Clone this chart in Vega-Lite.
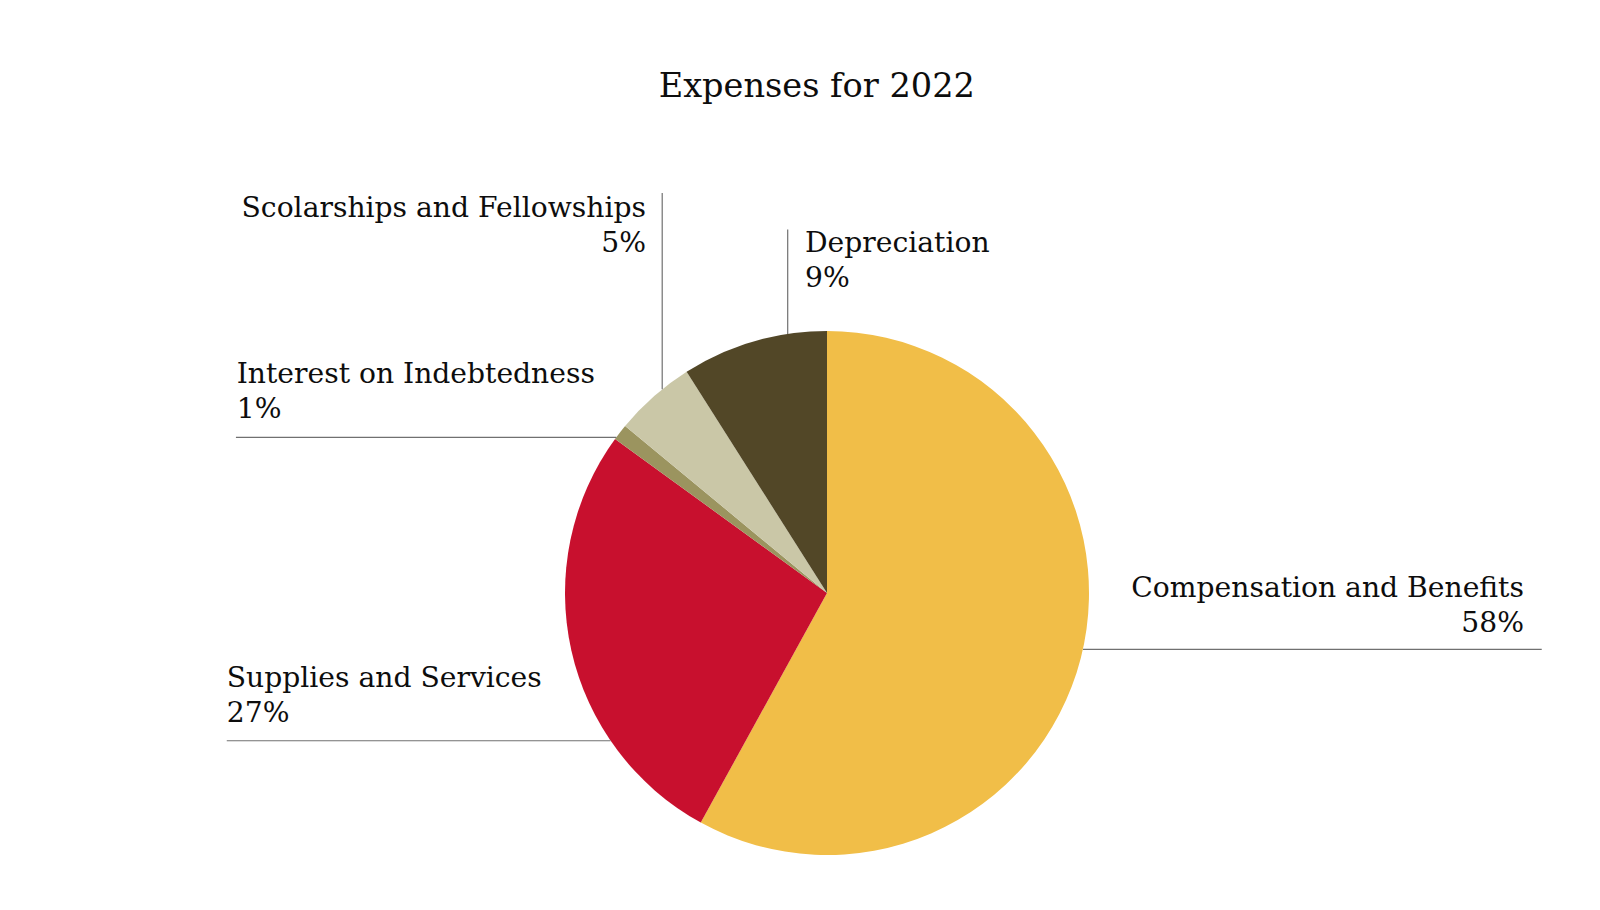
{
  "$schema": "https://vega.github.io/schema/vega-lite/v6.json",
  "autosize": {"type": "none"},
  "width": 1546,
  "height": 524,
  "padding": {"left": 54, "top": 331, "right": 0, "bottom": 55},
  "background": "white",
  "config": {"view": {"stroke": null}},
  "datasets": {
    "expenses": [
      {"category": "Compensation and Benefits", "share": 0.58, "rank": 1, "label_u": 266.0, "label_v": -1.4, "line_u": 97.7, "line_v": -21.5, "line_u2": 272.8, "line_v2": -21.5},
      {"category": "Supplies and Services", "share": 0.27, "rank": 2, "label_u": -229.1, "label_v": -35.8, "line_u": -229.1, "line_v": -56.4, "line_u2": -82.6, "line_v2": -56.4},
      {"category": "Interest on Indebtedness", "share": 0.01, "rank": 3, "label_u": -225.3, "label_v": 80.2, "line_u": -225.6, "line_v": 59.4, "line_u2": -80.4, "line_v2": 59.4},
      {"category": "Scolarships and Fellowships", "share": 0.05, "rank": 4, "label_u": -69.1, "label_v": 143.5, "line_u": -62.9, "line_v": 152.7, "line_u2": -62.9, "line_v2": 77.8},
      {"category": "Depreciation", "share": 0.09, "rank": 5, "label_u": -8.4, "label_v": 130.3, "line_u": -15.0, "line_v": 138.7, "line_u2": -15.0, "line_v2": 98.9}
    ],
    "titles": [{"text": "Expenses for 2022", "u": -3.9, "v": 189.3}]
  },
  "data": {"name": "expenses"},
  "layer": [
    {
      "mark": {"type": "arc"},
      "encoding": {
        "theta": {"field": "share", "type": "quantitative", "stack": true},
        "order": {"field": "rank", "type": "quantitative"},
        "color": {
          "field": "category",
          "type": "nominal",
          "legend": null,
          "scale": {
            "domain": ["Compensation and Benefits", "Supplies and Services", "Interest on Indebtedness", "Scolarships and Fellowships", "Depreciation"],
            "range": ["#F1BE48", "#C8102E", "#9B945F", "#CAC7A7", "#524727"]
          }
        }
      }
    },
    {
      "mark": {"type": "rule", "color": "#707070", "strokeWidth": 1.2},
      "encoding": {
        "x": {"field": "line_u", "type": "quantitative", "axis": null, "scale": {"domain": [-295.04, 295.04], "nice": false, "zero": false}},
        "y": {"field": "line_v", "type": "quantitative", "axis": null, "scale": {"domain": [-100, 100], "nice": false, "zero": false}},
        "x2": {"field": "line_u2"},
        "y2": {"field": "line_v2"}
      }
    },
    {
      "transform": [{"filter": {"field": "category", "oneOf": ["Scolarships and Fellowships", "Compensation and Benefits"]}}],
      "mark": {"type": "text", "align": "right", "baseline": "alphabetic", "font": "DejaVu Serif", "fontSize": 28.2, "color": "#0d0d0d"},
      "encoding": {
        "x": {"field": "label_u", "type": "quantitative"},
        "y": {"field": "label_v", "type": "quantitative"},
        "text": {"field": "category", "type": "nominal"}
      }
    },
    {
      "transform": [{"filter": {"field": "category", "oneOf": ["Scolarships and Fellowships", "Compensation and Benefits"]}}],
      "mark": {"type": "text", "align": "right", "baseline": "alphabetic", "font": "DejaVu Serif", "fontSize": 28.2, "color": "#0d0d0d", "dy": 35},
      "encoding": {
        "x": {"field": "label_u", "type": "quantitative"},
        "y": {"field": "label_v", "type": "quantitative"},
        "text": {"field": "share", "type": "quantitative", "format": ".0%"}
      }
    },
    {
      "transform": [{"filter": {"not": {"field": "category", "oneOf": ["Scolarships and Fellowships", "Compensation and Benefits"]}}}],
      "mark": {"type": "text", "align": "left", "baseline": "alphabetic", "font": "DejaVu Serif", "fontSize": 28.2, "color": "#0d0d0d"},
      "encoding": {
        "x": {"field": "label_u", "type": "quantitative"},
        "y": {"field": "label_v", "type": "quantitative"},
        "text": {"field": "category", "type": "nominal"}
      }
    },
    {
      "transform": [{"filter": {"not": {"field": "category", "oneOf": ["Scolarships and Fellowships", "Compensation and Benefits"]}}}],
      "mark": {"type": "text", "align": "left", "baseline": "alphabetic", "font": "DejaVu Serif", "fontSize": 28.2, "color": "#0d0d0d", "dy": 35},
      "encoding": {
        "x": {"field": "label_u", "type": "quantitative"},
        "y": {"field": "label_v", "type": "quantitative"},
        "text": {"field": "share", "type": "quantitative", "format": ".0%"}
      }
    },
    {
      "data": {"name": "titles"},
      "mark": {"type": "text", "align": "center", "baseline": "alphabetic", "font": "DejaVu Serif", "fontSize": 33.6, "color": "#0d0d0d"},
      "encoding": {
        "x": {"field": "u", "type": "quantitative"},
        "y": {"field": "v", "type": "quantitative"},
        "text": {"field": "text", "type": "nominal"}
      }
    }
  ]
}
